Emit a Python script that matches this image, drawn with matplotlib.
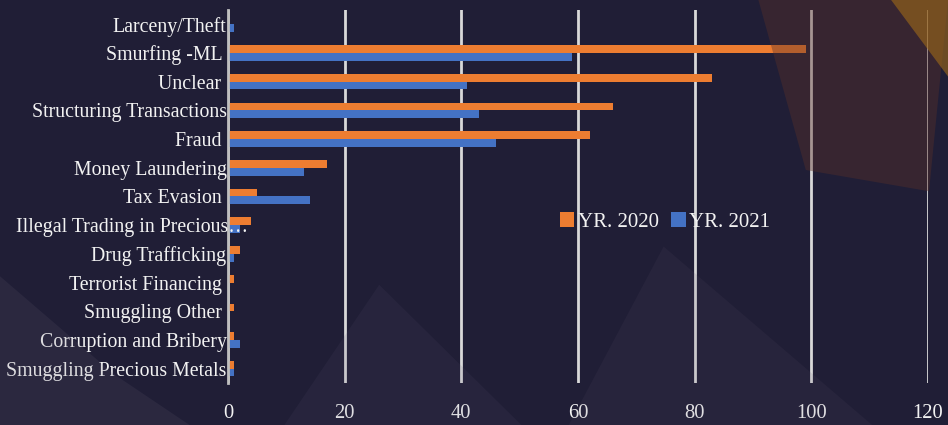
import matplotlib
matplotlib.use("Agg")
import matplotlib.pyplot as plt
from matplotlib.patches import Polygon
from matplotlib.transforms import blended_transform_factory
import numpy as np

categories = [
    "Larceny/Theft", "Smurfing -ML ", "Unclear ", "Structuring Transactions",
    "Fraud ", "Money Laundering", "Tax Evasion ", "Illegal Trading in Precious\u2026",
    "Drug Trafficking", "Terrorist Financing ", "Smuggling Other ",
    "Corruption and Bribery", "Smuggling Precious Metals",
]
yr_2020 = [0, 99, 83, 66, 62, 17, 5, 4, 2, 1, 1, 1, 1]
yr_2021 = [1, 59, 41, 43, 46, 13, 14, 2, 1, 0, 0, 2, 1]
x_ticks = [0, 20, 40, 60, 80, 100, 120]

bg = "#201e36"
txt = "#f2f2f2"
grid_c = "#d9d9d9"

plt.rcParams["font.family"] = ["Liberation Serif", "DejaVu Serif"]

fig = plt.figure(figsize=(9.48, 4.25), dpi=100, facecolor=bg)

# faint shapes standing in for the photo behind the chart
shapes = [
    ([(0.0, 0.0), (0.0, 0.35), (0.12, 0.12), (0.2, 0.0)], "#6a6478", 0.15),
    ([(0.3, 0.0), (0.4, 0.33), (0.55, 0.0)], "#5a5470", 0.12),
    ([(0.6, 0.0), (0.7, 0.42), (0.92, 0.0)], "#5b5068", 0.12),
    ([(0.8, 1.0), (0.85, 0.6), (0.98, 0.55), (1.0, 1.0)], "#5a3028", 0.4),
    ([(0.94, 1.0), (1.0, 0.82), (1.0, 1.0)], "#a06a18", 0.6),
]
for pts, col, a in shapes:
    fig.patches.append(Polygon(pts, closed=True, transform=fig.transFigure,
                               facecolor=col, alpha=a, edgecolor="none", zorder=0))

ax = fig.add_axes([0.2405, 0.0988, 0.7385, 0.8777])
ax.set_facecolor("none")

y = np.arange(len(categories))
h = 0.27
ax.barh(y - h / 2, yr_2020, height=h, color="#ED7D31", label="YR. 2020", zorder=3)
ax.barh(y + h / 2, yr_2021, height=h, color="#4472C4", label="YR. 2021", zorder=3)

ax.set_ylim(len(categories) - 0.5, -0.5)
ax.set_xlim(0, 120)
ax.set_yticks(y)
# the truncated label runs past the axis line, as in the original, so draw it by hand
long_idx = 7
shown = [c if i != long_idx else "" for i, c in enumerate(categories)]
ax.set_yticklabels(shown, color=txt, fontsize=14.3)
trans = blended_transform_factory(fig.transFigure, ax.transData)
ax.text(16 / 948, y[long_idx], categories[long_idx], transform=trans, ha="left",
        va="center_baseline", color=txt, fontsize=14.3, zorder=5)

ax.set_xticks(x_ticks)
ax.set_xticklabels([str(v) for v in x_ticks], color=txt, fontsize=14.8)
ax.tick_params(axis="y", length=0, pad=1)
ax.tick_params(axis="x", length=0, pad=15)

ax.grid(axis="x", color=grid_c, linewidth=2, zorder=1)
for s in ["top", "right", "bottom"]:
    ax.spines[s].set_visible(False)
ax.spines["left"].set_color("#bfbfbf")
ax.spines["left"].set_linewidth(2)
ax.spines["left"].set_zorder(4)

leg = ax.legend(ncol=2, frameon=False, loc="center", bbox_to_anchor=(0.624, 0.432),
                fontsize=15, handlelength=0.7, handleheight=0.7,
                handletextpad=0.15, columnspacing=0.6, borderaxespad=0)
for t in leg.get_texts():
    t.set_color(txt)

fig.savefig("out.png", dpi=100, facecolor=bg)
